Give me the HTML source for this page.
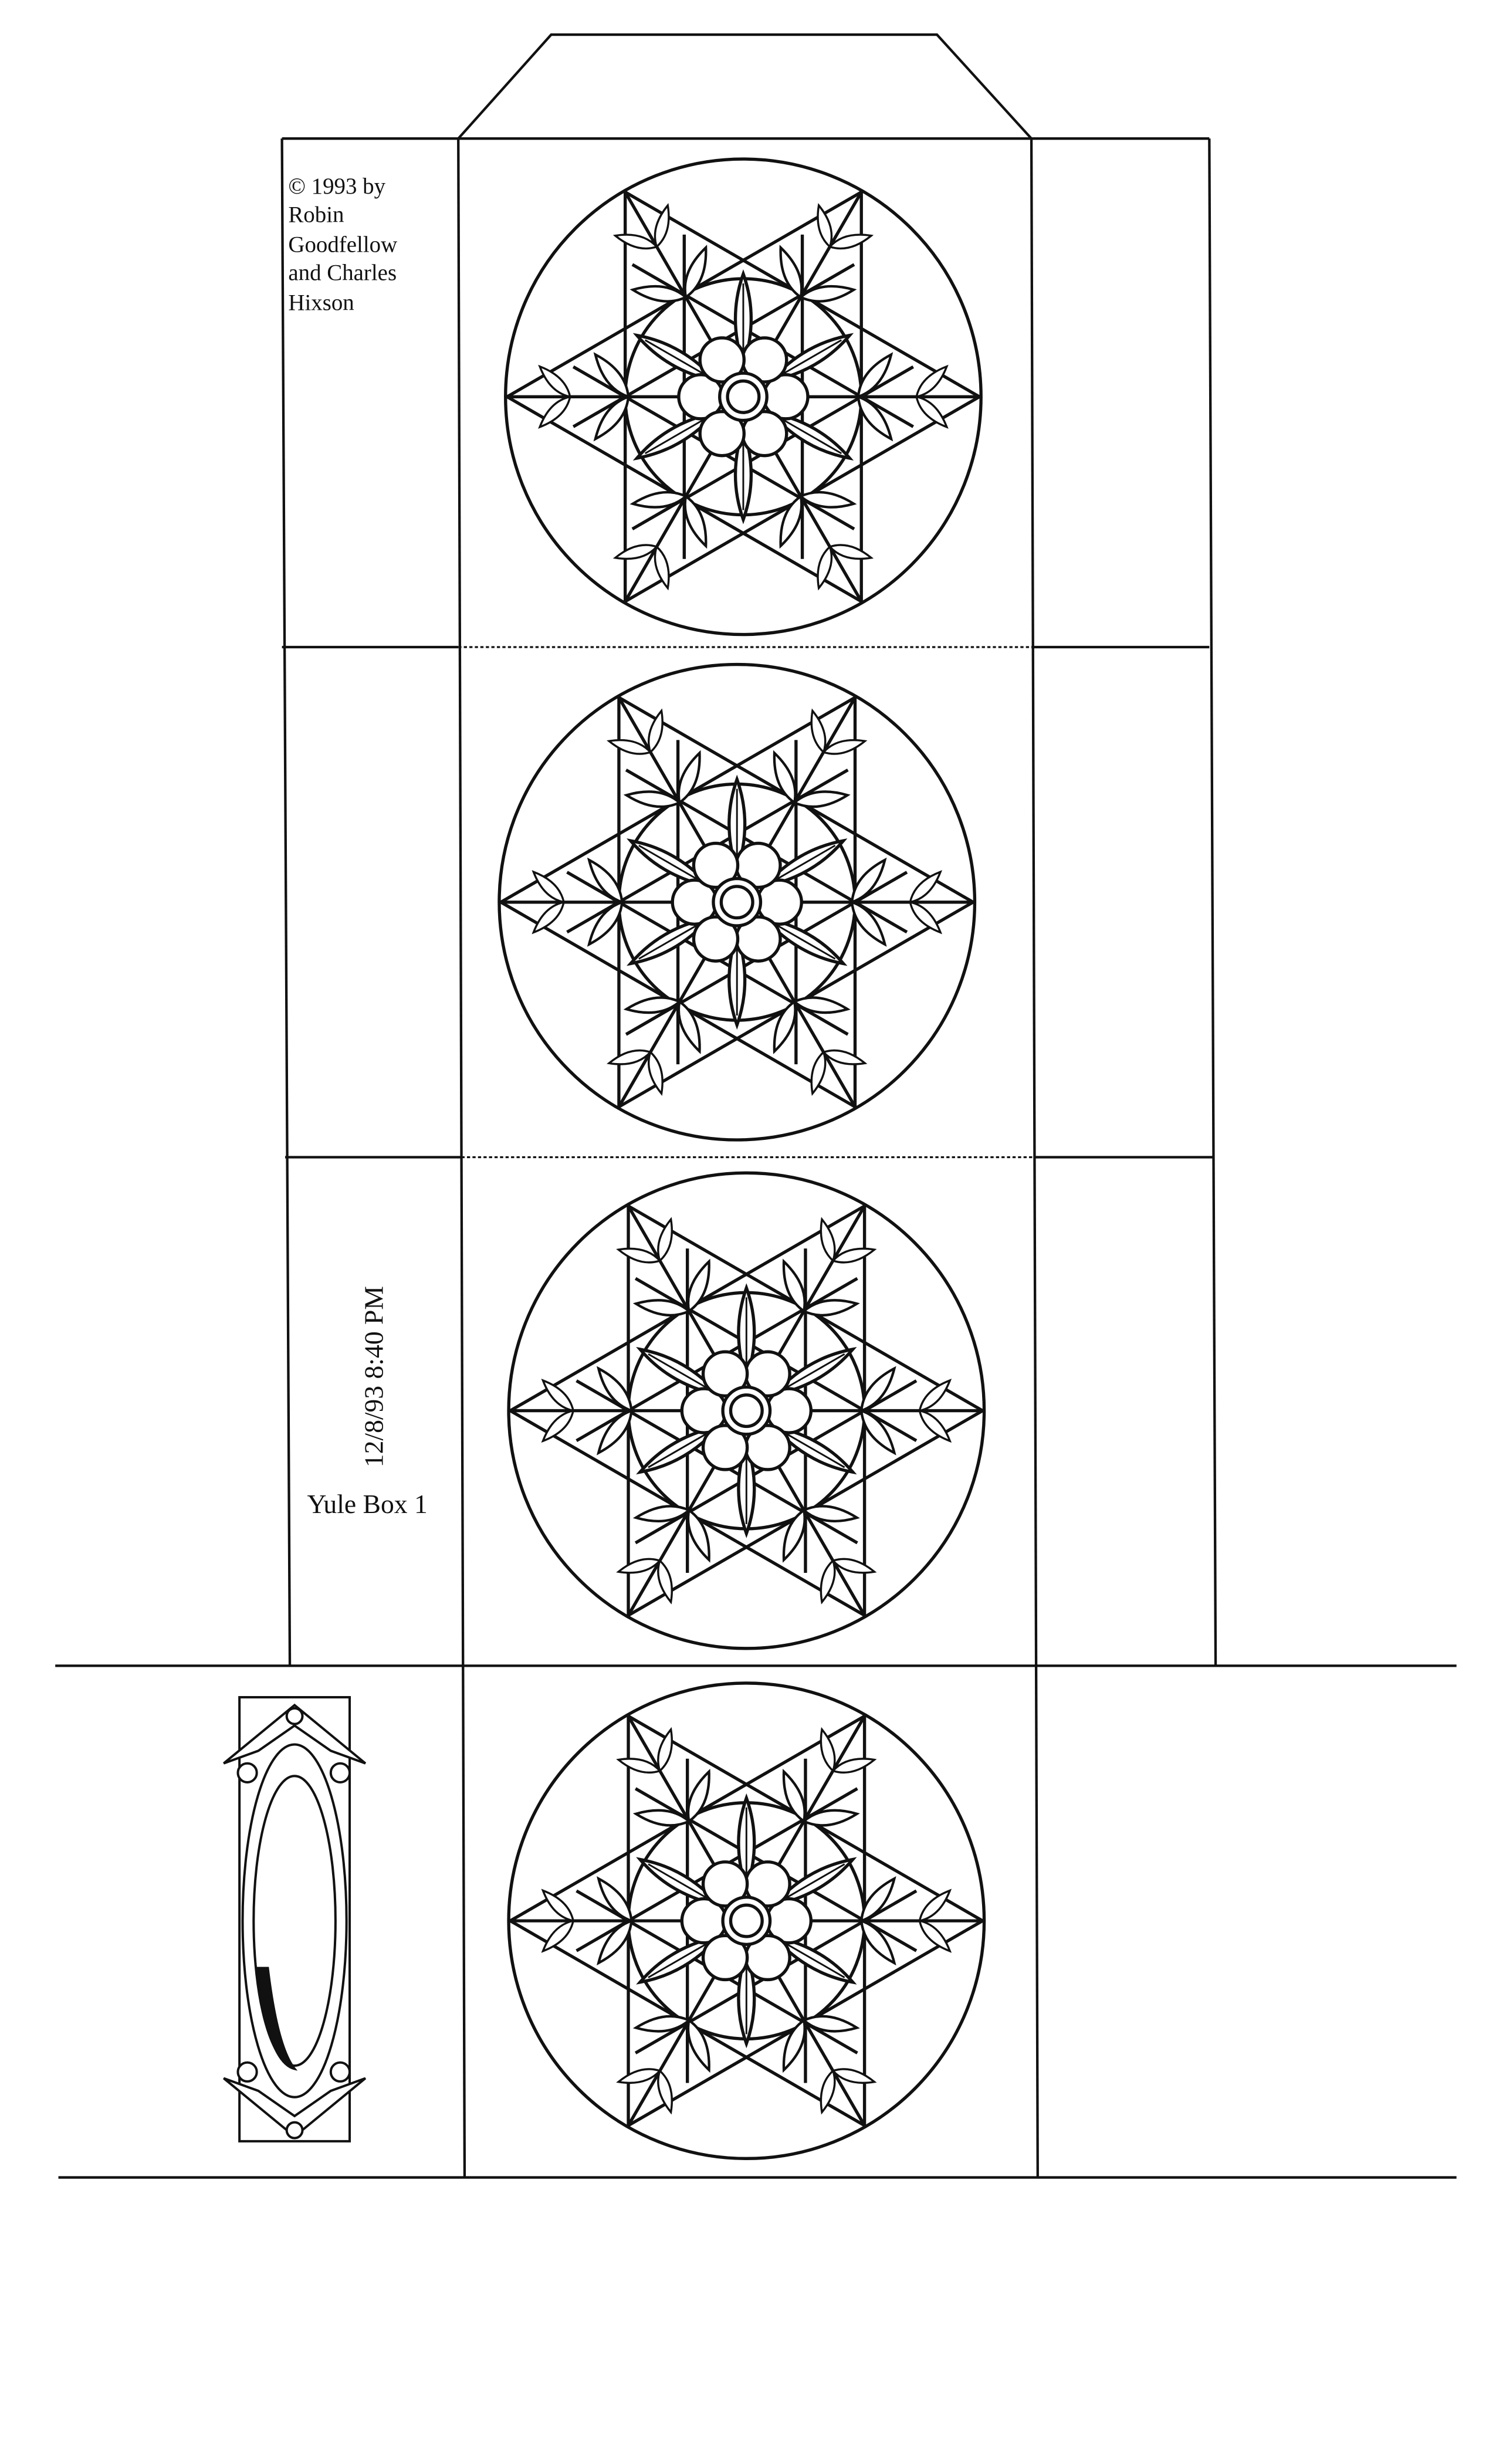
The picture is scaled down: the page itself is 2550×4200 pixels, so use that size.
<!DOCTYPE html>
<html><head><meta charset="utf-8"><style>
html,body{margin:0;padding:0;background:#fff;}
svg{display:block;}
text{font-family:"Liberation Serif",serif;fill:#111;}
</style></head><body>
<svg width="2550" height="4200" viewBox="0 0 950 1565" xmlns="http://www.w3.org/2000/svg">
<defs>
<g id="sleaf"><path d="M0,0 Q9,-14 0,-34 Q-9,-14 0,0 Z" fill="#fff" stroke="#111" stroke-width="1.6"/></g>
<g id="pointdeco">
  <g transform="translate(73,0)"><use href="#sleaf" transform="rotate(38)"/><use href="#sleaf" transform="rotate(142)"/></g>
  <g transform="translate(110,0)"><use href="#sleaf" transform="rotate(45) scale(0.8)"/><use href="#sleaf" transform="rotate(135) scale(0.8)"/></g>
</g>
<g id="star" fill="none" stroke="#111" stroke-width="2">
  <circle r="151"/>
  <polygon points="150,0 -75,-130 -75,130"/>
  <polygon points="-150,0 75,-130 75,130"/>
  <line x1="-150" y1="0" x2="150" y2="0"/>
  <line x1="-75" y1="-130" x2="75" y2="130"/>
  <line x1="75" y1="-130" x2="-75" y2="130"/>
  <circle r="75"/>
  <g id="innerpair"><line x1="-37.5" y1="-103" x2="-37.5" y2="103"/><line x1="37.5" y1="-103" x2="37.5" y2="103"/></g>
  <use href="#innerpair" transform="rotate(60)"/>
  <use href="#innerpair" transform="rotate(120)"/>
  <use href="#pointdeco"/><use href="#pointdeco" transform="rotate(60)"/><use href="#pointdeco" transform="rotate(120)"/>
  <use href="#pointdeco" transform="rotate(180)"/><use href="#pointdeco" transform="rotate(240)"/><use href="#pointdeco" transform="rotate(300)"/>
  <g id="cl"><path d="M0,-20 Q10,-50 0,-78 Q-10,-50 0,-20 Z" fill="#fff"/><line x1="0" y1="-24" x2="0" y2="-72" stroke-width="1.1"/></g>
  <use href="#cl" transform="rotate(60)"/><use href="#cl" transform="rotate(120)"/><use href="#cl" transform="rotate(180)"/><use href="#cl" transform="rotate(240)"/><use href="#cl" transform="rotate(300)"/>
  <g fill="#fff">
    <circle cx="27" cy="0" r="14"/><circle cx="-27" cy="0" r="14"/>
    <circle cx="13.5" cy="23.4" r="14"/><circle cx="-13.5" cy="23.4" r="14"/>
    <circle cx="13.5" cy="-23.4" r="14"/><circle cx="-13.5" cy="-23.4" r="14"/>
    <circle r="15"/>
  </g>
  <circle r="10"/>
</g>
</defs>

<polyline points="291,88 350,22 595,22 655,88" fill="none" stroke="#111" stroke-width="1.6"/>
<g stroke="#111" stroke-width="1.6" fill="none">
  <line x1="291" y1="88" x2="655" y2="88"/>
  <line x1="179" y1="88" x2="291" y2="88"/>
  <line x1="655" y1="88" x2="768" y2="88"/>
  <line x1="179" y1="88" x2="184" y2="1058"/>
  <line x1="768" y1="88" x2="772" y2="1058"/>
  <line x1="291" y1="88" x2="295" y2="1383"/>
  <line x1="655" y1="88" x2="659" y2="1383"/>
  <line x1="179" y1="411" x2="291" y2="411"/>
  <line x1="655" y1="411" x2="768" y2="411"/>
  <line x1="181" y1="735" x2="293" y2="735"/>
  <line x1="657" y1="735" x2="770" y2="735"/>
  <line x1="35" y1="1058" x2="925" y2="1058"/>
  <line x1="37" y1="1383" x2="925" y2="1383"/>
</g>
<g stroke="#111" stroke-width="1.2" stroke-dasharray="2,1.5" fill="none">
  <line x1="291" y1="411" x2="655" y2="411"/>
  <line x1="293" y1="735" x2="657" y2="735"/>
  <line x1="295" y1="1383" x2="659" y2="1383"/>
</g>

<use href="#star" transform="translate(472,252)"/>
<use href="#star" transform="translate(468,573)"/>
<use href="#star" transform="translate(474,896)"/>
<use href="#star" transform="translate(474,1220)"/>

<g font-size="14.5">
  <text x="183" y="123">© 1993 by</text>
  <text x="183" y="141">Robin</text>
  <text x="183" y="160">Goodfellow</text>
  <text x="183" y="178">and Charles</text>
  <text x="183" y="197">Hixson</text>
</g>
<text font-size="17" transform="translate(243,932) rotate(-90)">12/8/93 8:40 PM</text>
<text x="195" y="961" font-size="17">Yule Box 1</text>

<g stroke="#111" stroke-width="1.5" fill="#fff">
  <rect x="152" y="1078" width="70" height="282"/>
  <path d="M142,1120 L187,1083 L232,1120 L210,1112 L187,1096 L164,1112 Z"/>
  <path d="M142,1320 L187,1357 L232,1320 L210,1328 L187,1344 L164,1328 Z"/>
  <ellipse cx="187" cy="1220" rx="33" ry="112"/>
  <ellipse cx="187" cy="1220" rx="26" ry="92"/>
  <path d="M163,1250 Q170,1310 187,1314 Q176,1300 170,1250 Z" fill="#111"/>
  <circle cx="157" cy="1126" r="6"/><circle cx="216" cy="1126" r="6"/>
  <circle cx="157" cy="1316" r="6"/><circle cx="216" cy="1316" r="6"/>
  <circle cx="187" cy="1090" r="5"/><circle cx="187" cy="1353" r="5"/>
</g>
</svg>
</body></html>
